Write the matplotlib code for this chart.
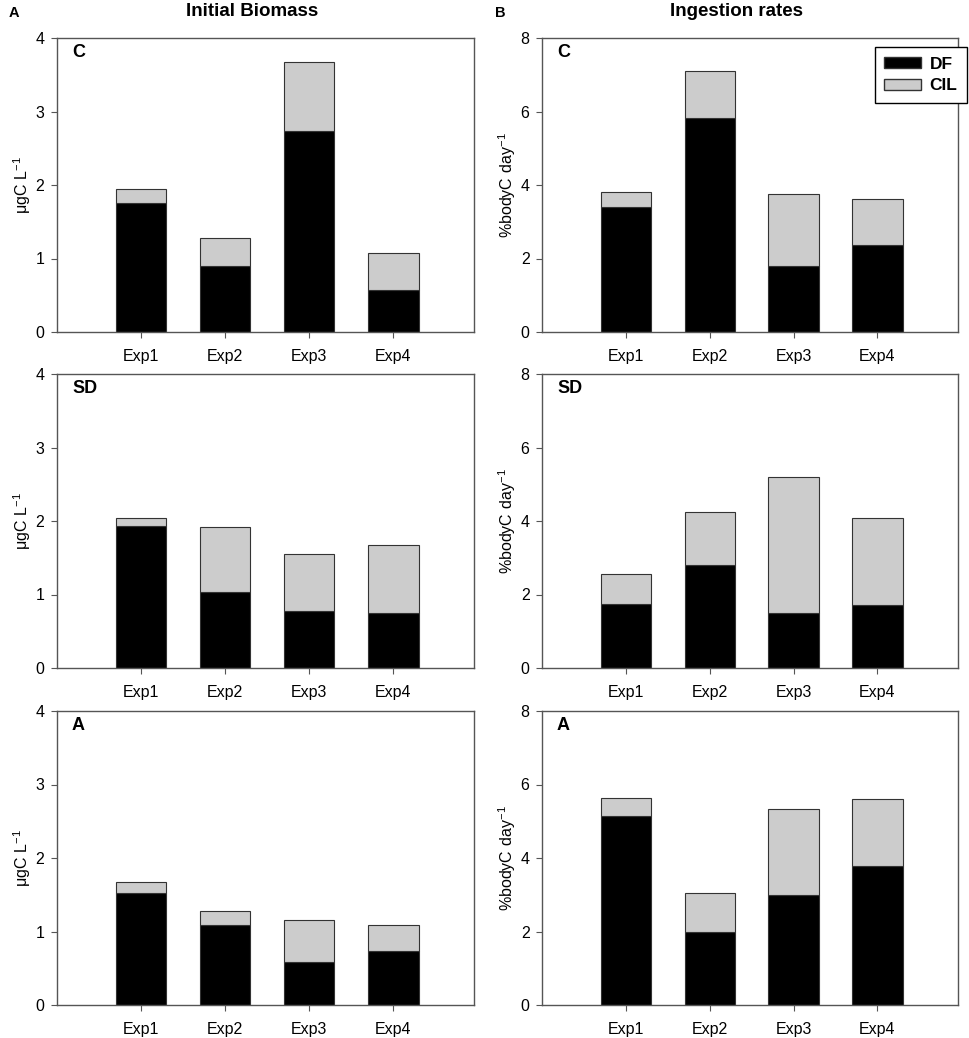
import numpy as np
import matplotlib
matplotlib.use("Agg")
import matplotlib.pyplot as plt
from matplotlib.patches import Patch

plt.rcParams['font.family'] = ['Liberation Sans', 'DejaVu Sans']

experiments = ['Exp1', 'Exp2', 'Exp3', 'Exp4']
treatments = ['C', 'SD', 'A']

# initial biomass (ugC/L): DF part and total stack height
biomass_df = {
    'C': [1.75, 0.90, 2.73, 0.57],
    'SD': [1.93, 1.03, 0.78, 0.75],
    'A': [1.52, 1.09, 0.59, 0.73],
}
biomass_total = {
    'C': [1.95, 1.28, 3.67, 1.08],
    'SD': [2.04, 1.92, 1.55, 1.67],
    'A': [1.67, 1.28, 1.16, 1.09],
}

# ingestion rates (% body C per day)
ingest_df = {
    'C': [3.40, 5.82, 1.80, 2.37],
    'SD': [1.75, 2.80, 1.50, 1.72],
    'A': [5.13, 1.98, 2.98, 3.77],
}
ingest_total = {
    'C': [3.80, 7.10, 3.75, 3.63],
    'SD': [2.55, 4.25, 5.20, 4.08],
    'A': [5.62, 3.04, 5.32, 5.60],
}

W, H = 970, 1038
fig = plt.figure(figsize=(W / 100, H / 100), dpi=100)

col_x = [57, 542]
col_w = [417, 416]
row_top = [38, 374, 711]
row_h = 294

spine_col = '#555555'
x = np.arange(1, len(experiments) + 1)


def draw(ax, df, total, ymax, ylabel, letter):
    df = np.array(df)
    cil = np.array(total) - df
    ax.bar(x, df, width=0.6, color='black', edgecolor='#333333', linewidth=0.8)
    ax.bar(x, cil, bottom=df, width=0.6, color='#cccccc',
           edgecolor='#333333', linewidth=0.8)
    ax.set_xlim(0, 4.96)
    ax.set_ylim(0, ymax)
    ax.set_yticks(np.linspace(0, ymax, 5))
    ax.set_xticks(x)
    ax.set_xticklabels(experiments)
    ax.tick_params(direction='out', length=4, width=0.8, color=spine_col,
                   labelsize=11.5, pad=5)
    ax.tick_params(axis='x', pad=8)
    for s in ax.spines.values():
        s.set_color(spine_col)
        s.set_linewidth(1.0)
    ax.set_ylabel(ylabel, fontsize=11.5, labelpad=2)
    ax.text(0.036, 0.98, letter, transform=ax.transAxes, fontsize=13,
            fontweight='bold', ha='left', va='top')


for r, t in enumerate(treatments):
    for c in range(2):
        left = col_x[c] / W
        bottom = 1 - (row_top[r] + row_h) / H
        ax = fig.add_axes([left, bottom, col_w[c] / W, row_h / H])
        if c == 0:
            draw(ax, biomass_df[t], biomass_total[t], 4,
                 r'$\mathregular{\mu gC\ L^{-1}}$', t)
        else:
            draw(ax, ingest_df[t], ingest_total[t], 8,
                 r'$\mathregular{\%bodyC\ day^{-1}}$', t)

fig.text(252 / W, 1 - 11 / H, 'Initial Biomass', fontsize=13.5,
         fontweight='bold', ha='center', va='center')
fig.text(737 / W, 1 - 11 / H, 'Ingestion rates', fontsize=13.5,
         fontweight='bold', ha='center', va='center')
fig.text(9 / W, 1 - 13 / H, 'A', fontsize=10.5, fontweight='bold',
         ha='left', va='center')
fig.text(495 / W, 1 - 13 / H, 'B', fontsize=10.5, fontweight='bold',
         ha='left', va='center')

handles = [Patch(facecolor='black', edgecolor='#333333', label='DF'),
           Patch(facecolor='#cccccc', edgecolor='#333333', label='CIL')]
leg = fig.legend(handles=handles, loc='upper right',
                 bbox_to_anchor=(967 / W, 1 - 47 / H),
                 bbox_transform=fig.transFigure, fancybox=False,
                 edgecolor='black', framealpha=1, borderaxespad=0,
                 prop={'weight': 'bold', 'size': 12.5},
                 handlelength=2.1, handleheight=0.55, borderpad=0.55,
                 labelspacing=0.4, handletextpad=0.5)
leg.get_frame().set_linewidth(1.0)

fig.savefig('out.png', dpi=100)
